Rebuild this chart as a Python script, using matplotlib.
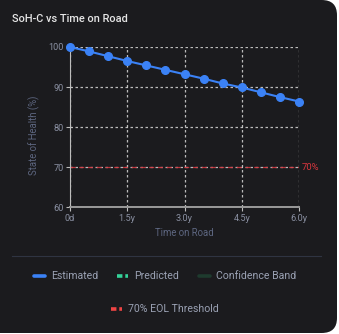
import numpy as np
import matplotlib.pyplot as plt
from matplotlib.patches import FancyBboxPatch
from matplotlib.lines import Line2D

plt.rcParams['font.family'] = ['Roboto', 'DejaVu Sans']

# data
years = [0, 0.5, 1.0, 1.5, 2.0, 2.5, 3.0, 3.5, 4.0, 4.5, 5.0, 5.5, 6.0]
soh_est = [100, 98.9, 97.7, 96.5, 95.4, 94.3, 93.2, 92.1, 90.9, 89.9, 88.7, 87.5, 86.4]
x_ticks = [0, 1.5, 3.0, 4.5, 6.0]
x_tick_labels = ["0d", "1.5y", "3.0y", "4.5y", "6.0y"]
y_ticks = [60, 70, 80, 90, 100]
eol_threshold = 70
legend_labels = ["Estimated", "Predicted", "Confidence Band", "70% EOL Threshold"]

W, H = 339, 334
card = "#1b1b1e"
blue = "#3b82f6"
red = "#d9363e"
tick_col = "#8a90a2"
label_col = "#5d6680"
grid_col = "#d8d8d8"

fig = plt.figure(figsize=(W / 100, H / 100), dpi=100)
fig.patch.set_facecolor("white")

def fx(px):
    return px / W

def fy(py):
    return 1 - py / H

# card background
fig.patches.append(FancyBboxPatch((fx(-40), fy(333)), fx(377), 333 / H,
                                  boxstyle="round,pad=0,rounding_size=0.045",
                                  transform=fig.transFigure, facecolor=card,
                                  edgecolor="none", zorder=-5))

fig.text(fx(12), fy(19.5), "SoH-C vs Time on Road", color="#e6e6e6",
         fontsize=7.9, fontweight="medium", va="center", ha="left")

ax = fig.add_axes([fx(70), fy(207.3), fx(229), 160.3 / H])
ax.set_zorder(2)
ax.set_facecolor(card)
ax.set_xlim(0, 6)
ax.set_ylim(60, 100)

ax.grid(True, color=grid_col, linestyle=(0, (2, 2)), linewidth=0.9, alpha=0.85)
ax.set_axisbelow(True)
for s in ["top", "right"]:
    ax.spines[s].set_visible(False)
ax.spines["left"].set_color("#bdbdbd")
ax.spines["bottom"].set_color("#9a9a9a")
ax.spines["bottom"].set_linewidth(1.4)

ax.set_xticks(x_ticks)
ax.set_xticklabels(x_tick_labels)
ax.set_yticks(y_ticks)
ax.tick_params(colors=tick_col, labelsize=6.6, length=3, width=0.8, pad=1.5)
ax.tick_params(axis="x", color="#bdbdbd")
ax.tick_params(axis="y", color="#bdbdbd")

ax.axhline(eol_threshold, color=red, linestyle=(0, (4, 3)), linewidth=0.9,
           alpha=0.85, zorder=2)
ax.text(6.08, eol_threshold, f"{eol_threshold}%", color=red, fontsize=6.8,
        va="center", ha="left", clip_on=False)

ax.plot(years, soh_est, color=blue, linewidth=1.5, marker="o", markersize=5.5,
        zorder=4, clip_on=False)

ax.set_xlabel("Time on Road", color=label_col, fontsize=6.9)
ax.set_ylabel("State of Health (%)", color=label_col, fontsize=6.9)
ax.xaxis.set_label_coords(0.5, (207.3 - 233) / 160.3)
ax.yaxis.set_label_coords((34 - 70) / 229, (207.3 - 135) / 160.3)
ax.xaxis.label.set_va("center")
ax.yaxis.label.set_va("center")

# separator
fig.add_artist(Line2D([fx(12), fx(321)], [fy(256), fy(256)], color="#2f3442",
                      linewidth=0.8, transform=fig.transFigure))

# legend
handles = [
    (34, 276, blue, "-"),
    (117, 276, "#34d399", (0, (1.5, 0.8))),
    (199, 276, "#1e3b2e", "-"),
    (111, 309, "#ef4444", (0, (1.5, 0.8))),
]
for (hx, hy, col, ls), lab in zip(handles, legend_labels):
    fig.add_artist(Line2D([fx(hx), fx(hx + 11)], [fy(hy), fy(hy)], color=col,
                          linestyle=ls, linewidth=2.6, solid_capstyle="round",
                          transform=fig.transFigure))
    fig.text(fx(hx + 17), fy(hy), lab, color="#9aa1b3", fontsize=7.6,
             va="center", ha="left")

fig.savefig("out.png", dpi=100, facecolor=fig.get_facecolor())
